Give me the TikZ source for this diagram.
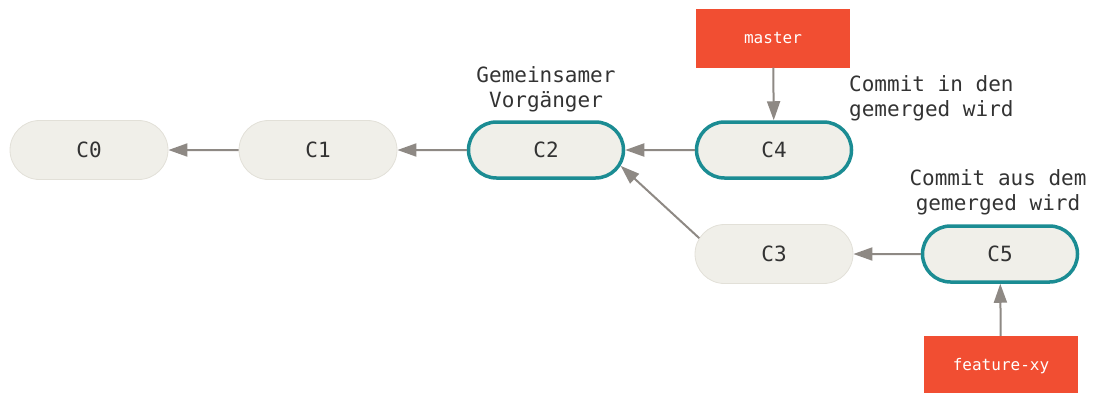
\documentclass[tikz,border=0pt]{standalone}
\usepackage{fontspec}
\setmonofont{DejaVu Sans Mono}
\usetikzlibrary{shapes.misc,arrows.meta}
\definecolor{cfill}{HTML}{F0EFE9}
\definecolor{cline}{HTML}{E2E0D8}
\definecolor{cteal}{HTML}{1B8C93}
\definecolor{cred}{HTML}{F14E32}
\definecolor{carrow}{HTML}{8E8984}
\definecolor{ctext}{HTML}{333333}
\tikzset{
  commit/.style={rounded rectangle, fill=cfill, draw=cline, line width=0.8pt,
    minimum width=158pt, minimum height=59pt, inner sep=0pt,
    font=\ttfamily\fontsize{21}{25}\selectfont, text=ctext},
  hl/.style={commit, draw=cteal, line width=3.5pt, minimum width=155pt, minimum height=56pt},
  branch/.style={rectangle, fill=cred, minimum width=154pt, minimum height=59pt, inner sep=0pt,
    font=\ttfamily\fontsize{16}{19}\selectfont, text=white},
  note/.style={font=\ttfamily\fontsize{21}{25}\selectfont, text=ctext, align=center, inner sep=0pt},
  conn/.style={draw=carrow, line width=2pt, -{Triangle[length=19pt,width=13pt]}, color=carrow}
}
\begin{document}
\begin{tikzpicture}[x=1pt,y=-1pt]
\useasboundingbox (0,0) rectangle (1099,392);
\node[commit] (C0) at (89,150) {C0};
\node[commit] (C1) at (318,150) {C1};
\node[hl] (C2) at (546,150) {C2};
\node[hl] (C4) at (774,150) {C4};
\node[commit] (C3) at (774,254) {C3};
\node[hl] (C5) at (1000,254) {C5};
\node[branch] (master) at (773,38) {master};
\node[branch, minimum height=60pt] (feat) at (1001,366) {feature-xy};
\node[note] (n1) at (546,89) {Gemeinsamer\\Vorgänger};
\node[note, anchor=west, align=left] (n2) at (849,98) {Commit in den\\gemerged wird};
\node[note] (n3) at (998,192) {Commit aus dem\\gemerged wird};
\draw[conn] (C1) -- (C0);
\draw[conn] (C2) -- (C1);
\draw[conn] (C4) -- (C2);
\draw[conn] (C5) -- (C3);
\draw[conn] (C3.168) -- (C2.-12);
\draw[conn] (master) -- (C4);
\draw[conn] (feat) -- (C5);
\end{tikzpicture}
\end{document}
